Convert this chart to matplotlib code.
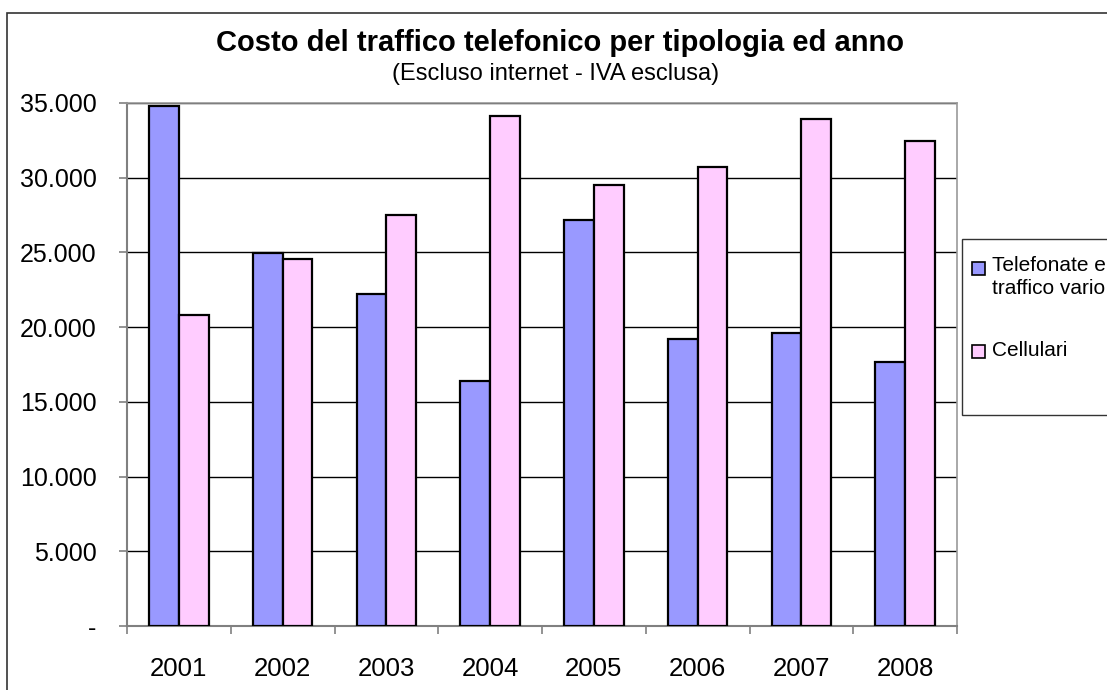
import matplotlib
matplotlib.use('Agg')
import matplotlib.pyplot as plt
from matplotlib.patches import Rectangle
import numpy as np

plt.rcParams['font.family'] = ['Liberation Sans', 'DejaVu Sans']

years = ['2001', '2002', '2003', '2004', '2005', '2006', '2007', '2008']
telefonate = [34800, 24950, 22250, 16400, 27200, 19200, 19600, 17700]
cellulari = [20800, 24550, 27500, 34150, 29500, 30700, 33900, 32450]
series_names = ['Telefonate e\ntraffico vario', 'Cellulari']
colors = ['#9999FF', '#FFCCFF']

W, H = 1107, 690


def fx(px):
    return px / W


def fy(py):
    return 1 - py / H


fig = plt.figure(figsize=(W / 100, H / 100), dpi=100)

# chart border (right and bottom sides fall outside the picture)
fig.patches.append(Rectangle((fx(7), fy(1000)), fx(1300), fy(13) - fy(1000),
                             transform=fig.transFigure, fill=False,
                             edgecolor='#333333', linewidth=1.2))

ax = fig.add_axes([fx(127), fy(626), fx(957) - fx(127), fy(103) - fy(626)])

x = np.arange(len(years))
bw = 0.2857
ax.bar(x - bw / 2, telefonate, bw, color=colors[0], edgecolor='black',
       linewidth=1.6, zorder=3)
ax.bar(x + bw / 2, cellulari, bw, color=colors[1], edgecolor='black',
       linewidth=1.6, zorder=3)

ax.set_xlim(-0.5, len(years) - 0.5)
ax.set_ylim(0, 35000)

yt = np.arange(0, 35001, 5000)
ax.set_yticks(yt)
ax.set_yticklabels(['-' if v == 0 else f'{v:,}'.replace(',', '.') for v in yt])
ax.yaxis.grid(True, color='black', linewidth=1.0, zorder=0)
ax.set_axisbelow(True)

ax.set_xticks(np.arange(len(years) + 1) - 0.5)
ax.set_xticklabels([])
ax.set_xticks(x, minor=True)
ax.set_xticklabels(years, minor=True)
ax.tick_params(axis='x', which='major', direction='out', length=6,
               width=1.2, color='#808080')
ax.tick_params(axis='x', which='minor', length=0, pad=22, labelsize=18.5)
ax.tick_params(axis='y', direction='out', length=6, width=1.2,
               color='#808080', labelsize=18, pad=16)

for s in ['top', 'right']:
    ax.spines[s].set_color('#999999')
    ax.spines[s].set_linewidth(1.2)
for s in ['left', 'bottom']:
    ax.spines[s].set_color('#808080')
    ax.spines[s].set_linewidth(1.5)

fig.text(fx(560), fy(43), 'Costo del traffico telefonico per tipologia ed anno',
         ha='center', va='center', fontsize=21, fontweight='bold')
fig.text(fx(556), fy(74), '(Escluso internet - IVA esclusa)',
         ha='center', va='center', fontsize=17)

# legend, cut off by the right edge like in the original
fig.patches.append(Rectangle((fx(962), fy(415)), fx(300), fy(239) - fy(415),
                             transform=fig.transFigure, facecolor='white',
                             edgecolor='#333333', linewidth=1.0))
fig.patches.append(Rectangle((fx(972), fy(275)), fx(13), fy(262) - fy(275),
                             transform=fig.transFigure, facecolor=colors[0],
                             edgecolor='black', linewidth=1.2))
fig.patches.append(Rectangle((fx(972), fy(358)), fx(13), fy(345) - fy(358),
                             transform=fig.transFigure, facecolor=colors[1],
                             edgecolor='black', linewidth=1.2))
fig.text(fx(992), fy(256), series_names[0], ha='left', va='top',
         fontsize=15, linespacing=1.25)
fig.text(fx(992), fy(351), series_names[1], ha='left', va='center',
         fontsize=15)

fig.savefig('out.png', dpi=100)
